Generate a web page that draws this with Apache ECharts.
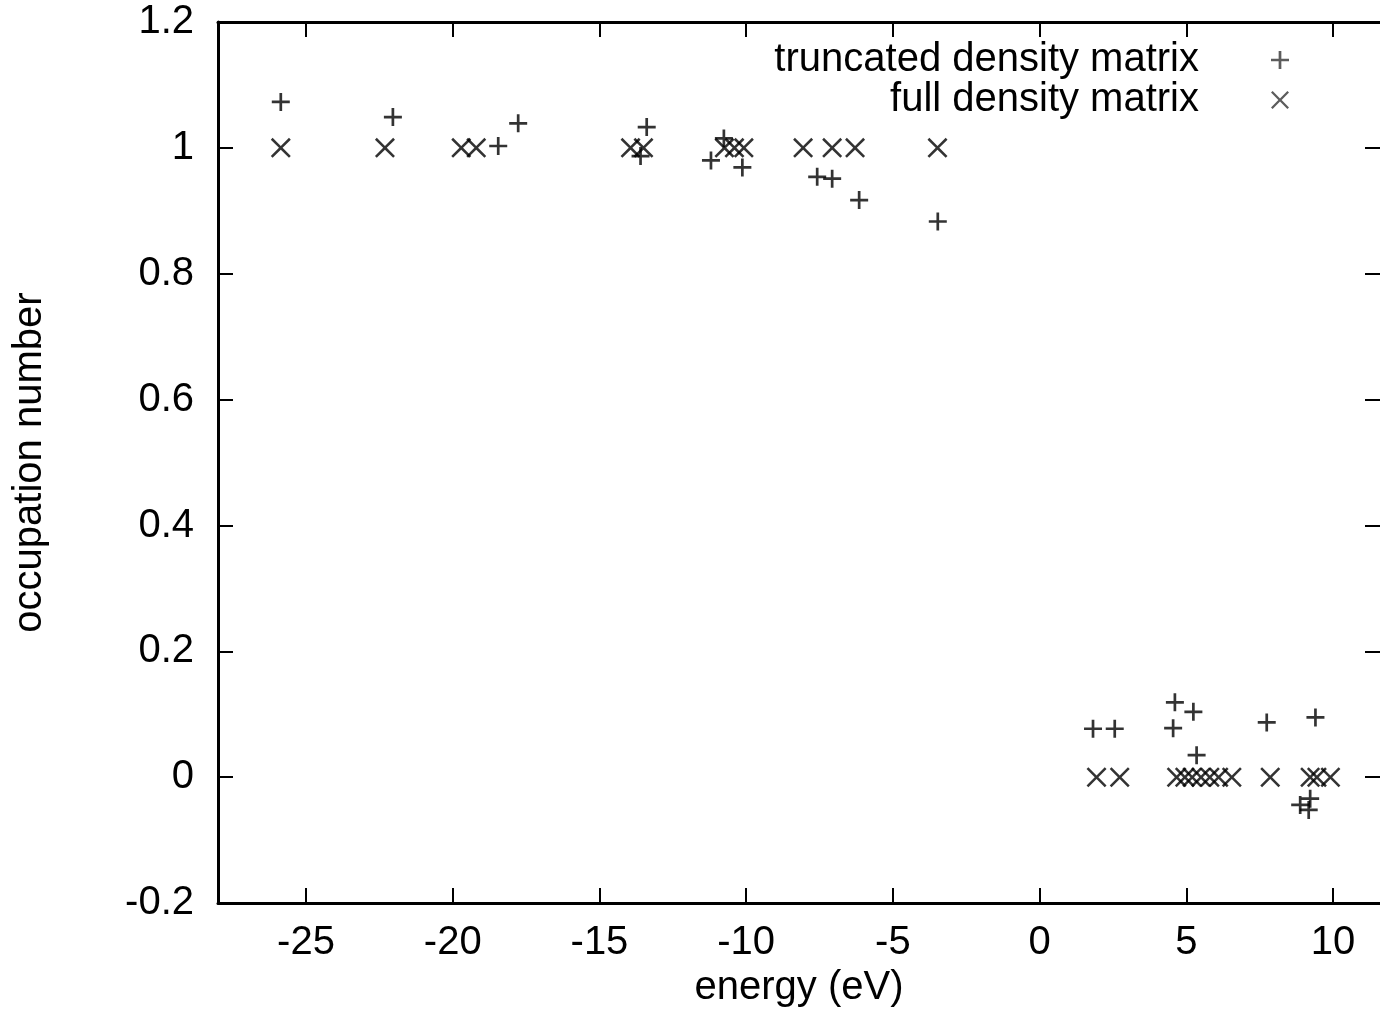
<!DOCTYPE html>
<html>
<head>
<meta charset="utf-8">
<script src="https://cdn.jsdelivr.net/npm/echarts@6/dist/echarts.min.js"></script>
<style>
html,body{margin:0;padding:0;background:#fff;}
#chart{width:1380px;height:1013px;}
</style>
</head>
<body>
<div id="chart"></div>
<script>
// ---- data ----
const truncName = 'truncated density matrix';
const fullName = 'full density matrix';
const truncX = [-25.86, -22.04, -18.45, -17.77, -13.39, -13.6, -11.2, -10.76, -10.13, -7.58, -7.07, -6.15, -3.47, 1.82, 2.56, 4.61, 5.24, 4.55, 5.35, 7.74, 9.40, 9.22, 8.88, 9.17];
const truncY = [1.073, 1.049, 1.003, 1.039, 1.033, 0.987, 0.98, 1.015, 0.969, 0.954, 0.951, 0.917, 0.883, 0.077, 0.077, 0.119, 0.104, 0.078, 0.035, 0.087, 0.095, -0.034, -0.044, -0.052];
const fullX = [-25.86, -22.31, -19.71, -19.2, -13.94, -13.5, -10.74, -10.4, -10.08, -8.06, -7.07, -6.29, -3.48, 1.94, 2.73, 4.67, 4.95, 5.2, 5.5, 5.8, 6.1, 6.55, 7.86, 9.22, 9.45, 9.91];
const fullY = [1, 1, 1, 1, 1, 1, 1, 1, 1, 1, 1, 1, 1, 0, 0, 0, 0, 0, 0, 0, 0, 0, 0, 0, 0, 0];
const xTicks = [-25, -20, -15, -10, -5, 0, 5, 10];
const yTicks = [-0.2, 0, 0.2, 0.4, 0.6, 0.8, 1.0, 1.2];
const xTitle = 'energy (eV)';
const yTitle = 'occupation number';

const PLUS = 'path://M-1.5,-10H1.5V-1.5H10V1.5H1.5V10H-1.5V1.5H-10V-1.5H-1.5Z';
const CROSS = 'path://M-10,-8.2L-8.2,-10L0,-1.8L8.2,-10L10,-8.2L1.8,0L10,8.2L8.2,10L0,1.8L-8.2,10L-10,8.2L-1.8,0Z';

const zip = (xs, ys) => xs.map((x, i) => [x, ys[i]]);
const FONT = 'Liberation Sans';

function tick() {
  return {show: true, inside: true, length: 15, lineStyle: {color: '#000', width: 2}};
}
function line(show) {
  return {show: show, onZero: false, lineStyle: {color: '#000', width: 3}};
}

const chart = echarts.init(document.getElementById('chart'), null, {renderer: 'canvas'});
chart.setOption({
  animation: false,
  backgroundColor: '#fff',
  grid: {left: 218, top: 22, bottom: 105, right: 0, containLabel: false},
  legend: {
    orient: 'vertical',
    right: 86,
    top: 35,
    align: 'right',
    itemWidth: 18,
    itemHeight: 18,
    itemGap: 0,
    selectedMode: false,
    textStyle: {fontFamily: FONT, fontSize: 40, color: '#000', lineHeight: 40, padding: [0, 67, 0, 0]},
    data: [
      {name: truncName, icon: PLUS, itemStyle: {color: '#333'}},
      {name: fullName, icon: CROSS, itemStyle: {color: '#333'}}
    ]
  },
  xAxis: [
    {
      type: 'value', position: 'bottom', min: -28, max: 11.6,
      axisLine: line(true), splitLine: {show: false},
      name: xTitle, nameLocation: 'middle', nameGap: 62,
      nameTextStyle: {fontFamily: FONT, fontSize: 40, color: '#000'},
      axisTick: Object.assign(tick(), {customValues: xTicks}),
      axisLabel: {customValues: xTicks, margin: 20, fontFamily: FONT, fontSize: 40, color: '#000'}
    },
    {
      type: 'value', position: 'top', min: -28, max: 11.6,
      axisLine: line(true), splitLine: {show: false},
      axisTick: Object.assign(tick(), {customValues: xTicks}),
      axisLabel: {show: false}
    }
  ],
  yAxis: [
    {
      type: 'value', position: 'left', min: -0.2, max: 1.2,
      axisLine: line(true), splitLine: {show: false},
      name: yTitle, nameLocation: 'middle', nameGap: 168,
      nameTextStyle: {fontFamily: FONT, fontSize: 40, color: '#000'},
      axisTick: Object.assign(tick(), {customValues: yTicks}),
      axisLabel: {customValues: yTicks, margin: 24, fontFamily: FONT, fontSize: 40, color: '#000',
        formatter: v => String(Math.round(v * 10) / 10)}
    },
    {
      type: 'value', position: 'right', min: -0.2, max: 1.2,
      axisLine: line(false), splitLine: {show: false},
      axisTick: Object.assign(tick(), {customValues: yTicks}),
      axisLabel: {show: false}
    }
  ],
  series: [
    {
      name: truncName, type: 'scatter', xAxisIndex: 0, yAxisIndex: 0,
      symbol: PLUS, symbolSize: 18,
      itemStyle: {color: '#000'},
      data: zip(truncX, truncY)
    },
    {
      name: fullName, type: 'scatter', xAxisIndex: 0, yAxisIndex: 0,
      symbol: CROSS, symbolSize: 20,
      itemStyle: {color: '#000'},
      data: zip(fullX, fullY)
    }
  ]
});
</script>
</body>
</html>
